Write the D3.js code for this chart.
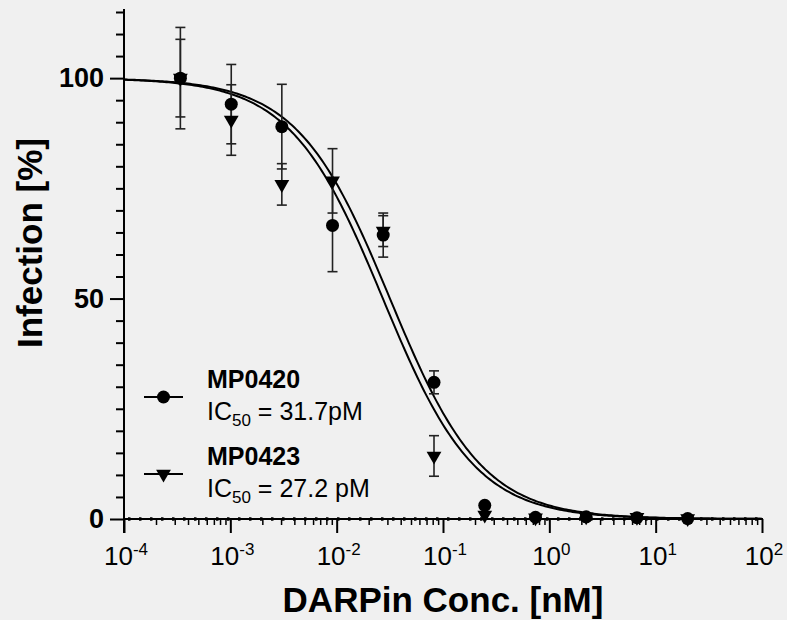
<!DOCTYPE html>
<html>
<head>
<meta charset="utf-8">
<script src="https://cdn.jsdelivr.net/npm/d3@7"></script>
<style>
  body { margin: 0; background: #f0f0f0; }
  svg { display: block; font-family: "Liberation Sans", Arial, sans-serif; }
</style>
</head>
<body>
<div id="chart"></div>
<script>
// concentrations in nM (3-fold dilution series)
var conc = [0.000339, 0.00102, 0.00305, 0.00914, 0.0274, 0.0823, 0.247, 0.741, 2.22, 6.67, 20];

var mp0420 = [100.0, 94.1, 89.0, 66.6, 64.4, 31.0, 3.1, 0.4, 0.5, 0.3, 0.1];
var mp0420Err = [11.5, 9.0, 9.6, 10.5, 5.0, 2.6, 0, 0, 0, 0, 0];

var mp0423 = [100.0, 90.5, 75.9, 76.7, 65.3, 14.3, 0.9, 0.3, 0.5, 0.4, 0.1];
var mp0423Err = [8.8, 8.0, 4.7, 7.3, 3.5, 4.6, 0, 0, 0, 0, 0];

// fitted curves: IC50 in nM, hill slope
var seriesNames = ['MP0420', 'MP0423'];
var ic50 = [0.0317, 0.0272];
var hill = [1.0, 1.0];
var ic50Labels = ['31.7pM', '27.2 pM'];

var xTicks = [1e-4, 1e-3, 1e-2, 1e-1, 1e0, 1e1, 1e2];
var xTickExp = ['-4', '-3', '-2', '-1', '0', '1', '2'];
var yTicks = [0, 50, 100];

var width = 787, height = 620;

var svg = d3.select('#chart').append('svg')
  .attr('width', width)
  .attr('height', height);

svg.append('rect')
  .attr('width', width)
  .attr('height', height)
  .attr('fill', '#f0f0f0');

var x = d3.scaleLog().domain([1e-4, 1e2]).range([124, 762]);
var y = d3.scaleLinear().domain([0, 115]).range([519, 12]);

// y axis
var minorY = d3.range(0, 116, 5).filter(function (d) { return d % 50 !== 0; });

svg.append('g')
  .attr('transform', 'translate(124,0)')
  .call(d3.axisLeft(y).tickValues(minorY).tickSize(8).tickFormat(''))
  .call(function (g) { g.select('.domain').remove(); })
  .selectAll('line').attr('stroke', '#000').attr('stroke-width', 2);

var yAxis = svg.append('g')
  .attr('transform', 'translate(124,0)')
  .call(d3.axisLeft(y).tickValues(yTicks).tickSize(14).tickPadding(6));
yAxis.select('.domain').remove();
yAxis.selectAll('line').attr('stroke', '#000').attr('stroke-width', 2);
yAxis.selectAll('text')
  .attr('font-size', 27)
  .attr('font-weight', 'bold')
  .attr('font-family', '"Liberation Sans", Arial, sans-serif')
  .attr('fill', '#000');

svg.append('line')
  .attr('x1', 124).attr('x2', 124)
  .attr('y1', 9).attr('y2', 533)
  .attr('stroke', '#000').attr('stroke-width', 2);

// x axis
var minorX = [];
xTicks.slice(0, -1).forEach(function (t) {
  for (var k = 2; k < 10; k++) minorX.push(t * k);
});

svg.append('g')
  .attr('transform', 'translate(0,519)')
  .call(d3.axisBottom(x).tickValues(minorX).tickSize(6).tickFormat(''))
  .call(function (g) { g.select('.domain').remove(); })
  .selectAll('line').attr('stroke', '#000').attr('stroke-width', 1.5);

var xAxis = svg.append('g')
  .attr('transform', 'translate(0,519)')
  .call(d3.axisBottom(x).tickValues(xTicks).tickSize(14).tickFormat(''));
xAxis.select('.domain').remove();
xAxis.selectAll('line').attr('stroke', '#000').attr('stroke-width', 2);

svg.append('line')
  .attr('x1', 124).attr('x2', 763)
  .attr('y1', 519).attr('y2', 519)
  .attr('stroke', '#000').attr('stroke-width', 2);

// dotted zero line on top of axis
svg.append('line')
  .attr('x1', 128).attr('x2', 762)
  .attr('y1', 519).attr('y2', 519)
  .attr('stroke', '#000').attr('stroke-width', 3.5)
  .attr('stroke-dasharray', '2.5,8.5');

var xLabels = svg.append('g').selectAll('text')
  .data(xTicks)
  .enter()
  .append('text')
  .attr('x', function (d) { return x(d) + 2; })
  .attr('y', 565)
  .attr('text-anchor', 'middle')
  .attr('font-size', 26)
  .attr('fill', '#000');
xLabels.append('tspan').text('10');
xLabels.append('tspan')
  .attr('font-size', 17)
  .attr('dy', -10)
  .text(function (d, i) { return xTickExp[i]; });

// axis titles
svg.append('text')
  .attr('x', 443)
  .attr('y', 612)
  .attr('text-anchor', 'middle')
  .attr('font-size', 35)
  .attr('font-weight', 'bold')
  .text('DARPin Conc. [nM]');

svg.append('text')
  .attr('transform', 'translate(42,243) rotate(-90)')
  .attr('text-anchor', 'middle')
  .attr('font-size', 35)
  .attr('font-weight', 'bold')
  .text('Infection [%]');

// fitted curves
var curveX = d3.range(-4, 2.001, 0.02).map(function (e) { return Math.pow(10, e); });

ic50.forEach(function (c, i) {
  var line = d3.line()
    .x(function (d) { return x(d); })
    .y(function (d) { return y(100 / (1 + Math.pow(d / c, hill[i]))); });
  svg.append('path')
    .datum(curveX)
    .attr('d', line)
    .attr('fill', 'none')
    .attr('stroke', '#000')
    .attr('stroke-width', 2);
});

// error bars
function errorBars(vals, errs) {
  var g = svg.append('g').attr('stroke', '#222').attr('stroke-width', 1.6);
  vals.forEach(function (v, i) {
    if (!errs[i]) return;
    var cx = x(conc[i]);
    g.append('line')
      .attr('x1', cx).attr('x2', cx)
      .attr('y1', y(v - errs[i])).attr('y2', y(v + errs[i]));
    [v - errs[i], v + errs[i]].forEach(function (e) {
      g.append('line')
        .attr('x1', cx - 5).attr('x2', cx + 5)
        .attr('y1', y(e)).attr('y2', y(e));
    });
  });
}
errorBars(mp0420, mp0420Err);
errorBars(mp0423, mp0423Err);

var tri = d3.symbol().type(d3.symbolTriangle).size(95);

svg.append('g').selectAll('path')
  .data(mp0423)
  .enter()
  .append('path')
  .attr('d', tri)
  .attr('transform', function (d, i) { return 'translate(' + x(conc[i]) + ',' + y(d) + ') rotate(180)'; })
  .attr('fill', '#000');

svg.append('g').selectAll('circle')
  .data(mp0420)
  .enter()
  .append('circle')
  .attr('cx', function (d, i) { return x(conc[i]); })
  .attr('cy', function (d) { return y(d); })
  .attr('r', 6.5)
  .attr('fill', '#000');

// legend
var legendY = [397, 474];
var textY = [388, 465];

legendY.forEach(function (ly, i) {
  svg.append('line')
    .attr('x1', 144).attr('x2', 183)
    .attr('y1', ly).attr('y2', ly)
    .attr('stroke', '#000').attr('stroke-width', 2);
  if (i === 0) {
    svg.append('circle').attr('cx', 163.5).attr('cy', ly).attr('r', 6.5).attr('fill', '#000');
  } else {
    svg.append('path').attr('d', tri)
      .attr('transform', 'translate(163.5,' + ly + ') rotate(180)')
      .attr('fill', '#000');
  }
  svg.append('text')
    .attr('x', 207).attr('y', textY[i])
    .attr('font-size', 25)
    .attr('font-weight', 'bold')
    .text(seriesNames[i]);
  var t = svg.append('text')
    .attr('x', 207).attr('y', textY[i] + 32)
    .attr('font-size', 25);
  t.append('tspan').text('IC');
  t.append('tspan').attr('font-size', 17).attr('dy', 6).text('50');
  t.append('tspan').attr('dy', -6).text(' = ' + ic50Labels[i]);
});
</script>
</body>
</html>
